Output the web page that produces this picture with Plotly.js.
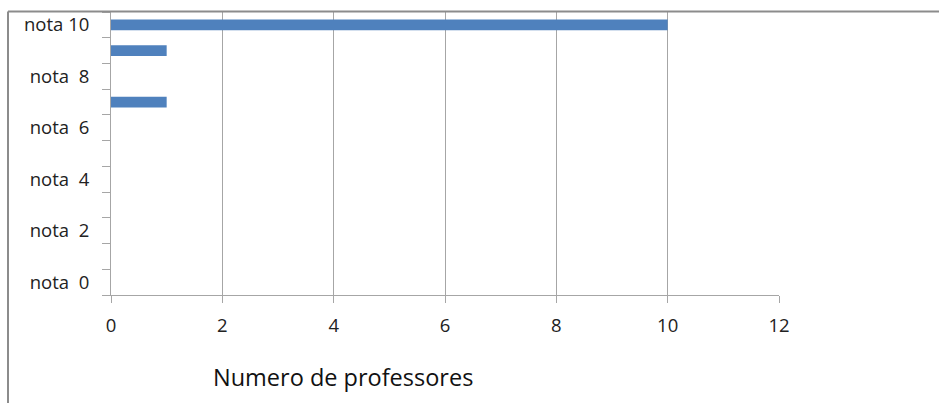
<!DOCTYPE html>
<html><head><meta charset="utf-8">
<script src="https://cdn.plot.ly/plotly-3.0.1.min.js"></script>
<style>html,body{margin:0;padding:0;background:#fff}#chart{width:939px;height:403px}</style>
</head><body><div id="chart"></div>
<script>
var notas = [0,1,2,3,4,5,6,7,8,9,10];
var professores = [0,0,0,0,0,0,0,1,0,1,10];
var tickVals = [0,2,4,6,8,10];
var tickText = ['nota\u00a0 0','nota\u00a0 2','nota\u00a0 4','nota\u00a0 6','nota\u00a0 8','nota 10'];
var xTicks = [0,2,4,6,8,10,12];
var xTitle = 'Numero de professores';

var boundaries = notas.map(function(v){return v-0.5;}).concat([10.5]);
var fnt = {family:'Open Sans, Noto Sans, sans-serif', size:18.5, color:'#222'};

Plotly.newPlot('chart',[{
  type:'bar', orientation:'h', x:professores, y:notas, width:0.42,
  marker:{color:'#4f81bd'}, hoverinfo:'skip'
}],{
  width:939, height:403,
  margin:{l:111, r:160, t:12, b:108},
  paper_bgcolor:'#fff', plot_bgcolor:'#fff',
  showlegend:false,
  font:fnt,
  xaxis:{range:[0,12], tickvals:xTicks, showgrid:true, gridcolor:'#a6a6a6', gridwidth:1,
    showline:true, linecolor:'#a6a6a6', linewidth:1, ticks:'outside', ticklen:7, tickcolor:'#a6a6a6',
    ticklabelstandoff:7, zeroline:false, tickfont:fnt, fixedrange:true},
  yaxis:{range:[-0.5,10.5], tickvals:tickVals, ticktext:tickText, ticks:'', showgrid:false,
    showline:true, linecolor:'#a6a6a6', linewidth:1, zeroline:false, tickfont:fnt,
    ticklabelstandoff:17,
    minor:{tickvals:boundaries, ticks:'outside', ticklen:8, tickcolor:'#a6a6a6', showgrid:false},
    fixedrange:true},
  annotations:[{xref:'paper', yref:'paper', x:(343-111)/668, y:-(377-295)/283, xanchor:'center', yanchor:'middle',
    text:xTitle, showarrow:false, font:{family:'Open Sans, Noto Sans, sans-serif', size:23.5, color:'#111'}}],
  shapes:[
    {type:'line', xref:'paper', yref:'paper', x0:-(111-8)/668, x1:(939-111)/668, y0:1.002, y1:1.002, line:{color:'#8c8c8c', width:2}},
    {type:'line', xref:'paper', yref:'paper', x0:-(111-8)/668, x1:-(111-8)/668, y0:1.002, y1:-(403-295)/283, line:{color:'#8c8c8c', width:2}}
  ]
},{staticPlot:true, displayModeBar:false});
</script></body></html>
